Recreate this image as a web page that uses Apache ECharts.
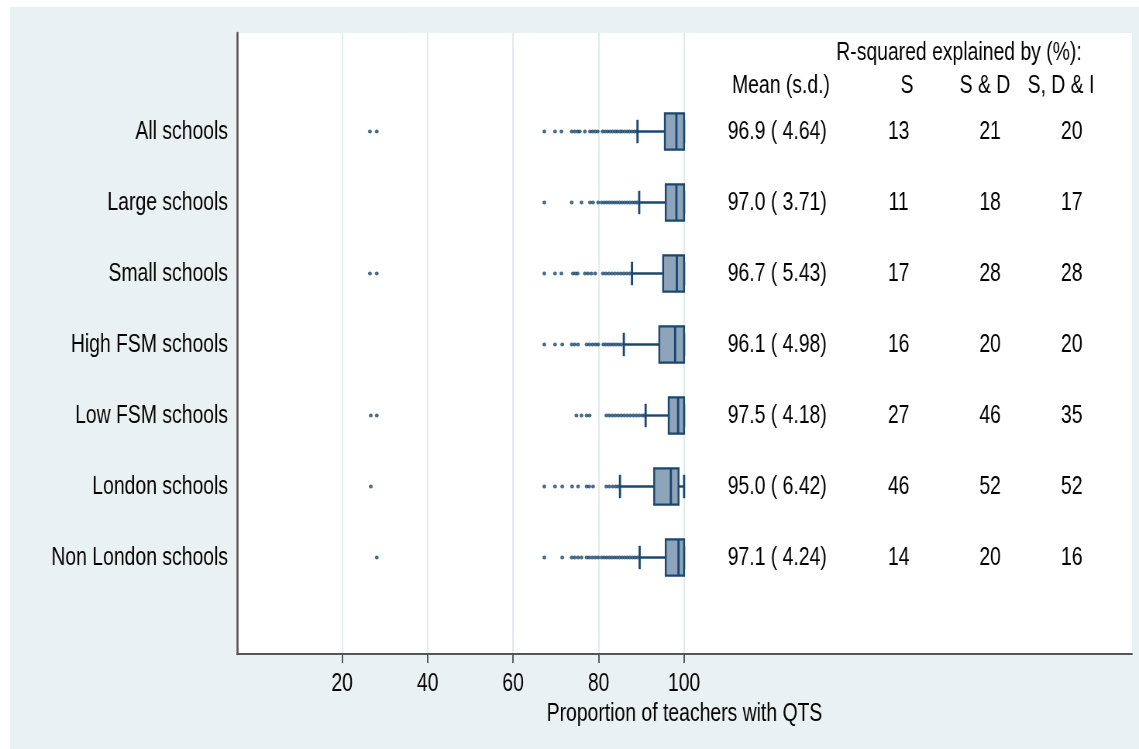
<!DOCTYPE html>
<html>
<head>
<meta charset="utf-8">
<title>Proportion of teachers with QTS</title>
<script src="https://cdn.jsdelivr.net/npm/echarts@6/dist/echarts.min.js"></script>
<style>
  html, body { margin: 0; padding: 0; background: #fff; }
  #wrap { position: relative; width: 1139px; height: 749px; background: #fff; overflow: hidden; }
  #bg { position: absolute; left: 10px; top: 7px; right: 0; bottom: 0; background: #eaf1f3; }
  /* the chart is drawn wider and squeezed horizontally to get narrow type */
  #chart { position: absolute; left: 0; top: 0; width: 1470px; height: 749px;
           transform-origin: 0 0; transform: scaleX(0.77483); }
</style>
</head>
<body>
<div id="wrap"><div id="bg"></div><div id="chart"></div></div>
<script>
// ---- data ----
const groups = ['All schools', 'Large schools', 'Small schools', 'High FSM schools',
                'Low FSM schools', 'London schools', 'Non London schools'];

const whiskerLow  = [89.1, 89.5, 87.8, 85.9, 91.0, 85.0, 89.6];
const quartile1   = [95.5, 95.7, 95.1, 94.2, 96.4, 93.0, 95.7];
const medians     = [98.2, 98.2, 98.3, 97.9, 98.6, 96.9, 98.7];
const quartile3   = [100, 100, 100, 100, 100, 98.7, 100];
const whiskerHigh = [100, 100, 100, 100, 100, 100, 100];

const outliersAll = [26.5, 28.1, 67.3, 69.8, 71.3, 73.7, 74.4, 75.1, 75.6, 76.8, 78.0, 78.6, 79.2, 79.8,
                     80.9, 81.5, 82.1, 82.7, 83.3, 83.9, 84.4, 85.0, 85.5, 86.1, 86.7, 87.2, 87.8, 88.4, 88.9];
const outliersLarge = [67.3, 73.7, 76.0, 78.0, 78.7, 79.9, 80.7, 81.3, 81.9, 82.5, 83.1, 83.7, 84.3, 84.9,
                       85.5, 86.1, 86.7, 87.3, 87.9, 88.5, 89.0];
const outliersSmall = [26.5, 28.1, 67.3, 69.8, 71.3, 74.0, 74.6, 75.1, 76.8, 77.5, 78.3, 79.2, 81.0, 81.7,
                       82.4, 83.1, 83.8, 84.5, 85.2, 85.9, 86.6, 87.3];
const outliersHighFsm = [67.3, 69.8, 71.5, 73.7, 74.4, 75.2, 77.2, 77.9, 78.6, 79.3, 79.9, 81.1, 81.7,
                         82.3, 82.9, 83.5, 84.1, 84.7, 85.3];
const outliersLowFsm = [26.7, 28.1, 74.8, 76.0, 77.2, 77.9, 81.8, 82.5, 83.2, 83.9, 84.6, 85.3, 86.0,
                        86.7, 87.4, 88.1, 88.8, 89.5, 90.2, 90.7];
const outliersLondon = [26.7, 67.3, 69.8, 71.5, 73.8, 75.2, 77.2, 77.8, 78.7, 81.8, 82.5, 83.3, 84.0, 84.6];
const outliersNonLondon = [28.1, 67.3, 71.5, 73.7, 74.4, 75.2, 76.0, 77.2, 77.8, 78.5, 79.2, 79.9, 80.7,
                           81.3, 81.9, 82.5, 83.1, 83.7, 84.3, 84.9, 85.5, 86.1, 86.7, 87.3, 87.9, 88.5, 89.1];
const outliers = [outliersAll, outliersLarge, outliersSmall, outliersHighFsm,
                  outliersLowFsm, outliersLondon, outliersNonLondon];

const meanVals = [96.9, 97.0, 96.7, 96.1, 97.5, 95.0, 97.1];
const sdVals   = [4.64, 3.71, 5.43, 4.98, 4.18, 6.42, 4.24];
const rsqS     = [13, 11, 17, 16, 27, 46, 14];
const rsqSD    = [21, 18, 28, 20, 46, 52, 20];
const rsqSDI   = [20, 17, 28, 20, 35, 52, 16];

const xTicks = [20, 40, 60, 80, 100];

// ---- styling / layout ----
const SX = 0.77483;                 // horizontal squeeze applied by CSS
const hx = v => v / SX;             // screen px -> canvas px (horizontal)
const FONT = "'Liberation Sans', Arial, sans-serif";
const FS = 25;
const NAVY = '#1a476f';
const BOX_FILL = '#8da4ba';
const AXIS_COLOR = '#555';
const X_MIN = -4.6, X_MAX = 204.8;
// x positions (axis units) of the text columns to the right of the boxes
const COL_MEAN = 121.8, COL_S = 150.2, COL_SD = 171.6, COL_SDI = 190.7;

const boxData = groups.map((g, i) =>
  [i, whiskerLow[i], quartile1[i], medians[i], quartile3[i], whiskerHigh[i]]);
const outlierData = [];
outliers.forEach((arr, i) => arr.forEach(v => outlierData.push([v, i])));
const statData = groups.map((g, i) => [i, meanVals[i], sdVals[i], rsqS[i], rsqSD[i], rsqSDI[i]]);

function renderBox(params, api) {
  const row = api.value(0);
  const lo = api.coord([api.value(1), row]);
  const b1 = api.coord([api.value(2), row]);
  const md = api.coord([api.value(3), row]);
  const b3 = api.coord([api.value(4), row]);
  const hi = api.coord([api.value(5), row]);
  const band = api.size([0, 1])[1];
  const boxH = band * 0.51;
  const capH = band * 0.33;
  const y = lo[1] - 1;
  const hLine = { stroke: NAVY, lineWidth: 2.4 };
  const vLine = { stroke: NAVY, lineWidth: hx(2.2) };
  return {
    type: 'group',
    children: [
      { type: 'line', shape: { x1: lo[0], y1: y, x2: b1[0], y2: y }, style: hLine },
      { type: 'line', shape: { x1: b3[0], y1: y, x2: hi[0], y2: y }, style: hLine },
      { type: 'line', shape: { x1: lo[0], y1: y - capH / 2, x2: lo[0], y2: y + capH / 2 }, style: vLine },
      { type: 'line', shape: { x1: hi[0], y1: y - capH / 2, x2: hi[0], y2: y + capH / 2 }, style: vLine },
      { type: 'rect', shape: { x: b1[0], y: y - boxH / 2, width: b3[0] - b1[0], height: boxH },
        style: { fill: BOX_FILL, stroke: NAVY, lineWidth: 2.4 } },
      { type: 'line', shape: { x1: md[0], y1: y - boxH / 2, x2: md[0], y2: y + boxH / 2 }, style: vLine }
    ]
  };
}

function renderStats(params, api) {
  const row = api.value(0);
  const mean = api.value(1), sd = api.value(2);
  const sdTxt = sd.toFixed(2).padStart(5, ' ');
  const cells = [
    [COL_MEAN, mean.toFixed(1) + ' (' + sdTxt + ')'],
    [COL_S, String(api.value(3))],
    [COL_SD, String(api.value(4))],
    [COL_SDI, String(api.value(5))]
  ];
  return {
    type: 'group',
    children: cells.map(([cx, txt]) => {
      const p = api.coord([cx, row]);
      return {
        type: 'text', x: p[0], y: p[1],
        style: { text: txt, fill: '#000', fontSize: FS, fontFamily: FONT,
                 align: 'center', verticalAlign: 'middle' }
      };
    })
  };
}

function headerText(txt, x, y) {
  return { type: 'text', x: hx(x), y: y,
           style: { text: txt, fill: '#000', fontSize: FS, fontFamily: FONT,
                    align: 'center', verticalAlign: 'middle' } };
}

const chart = echarts.init(document.getElementById('chart'), null, { renderer: 'canvas' });
chart.setOption({
  animation: false,
  textStyle: { fontFamily: FONT },
  grid: [
    { left: hx(237), right: hx(7), top: 33, bottom: 95, show: true, backgroundColor: '#fff', borderWidth: 0 },
    { left: hx(237), right: hx(7), top: 97, height: 497 }
  ],
  xAxis: [
    {
      gridIndex: 0, type: 'value', min: X_MIN, max: X_MAX,
      axisLine: { show: true, onZero: false, lineStyle: { color: AXIS_COLOR, width: 2 } },
      axisTick: { show: true, customValues: xTicks, length: 9, lineStyle: { color: AXIS_COLOR, width: hx(1.5) } },
      axisLabel: { show: true, customValues: xTicks, margin: 18, fontSize: FS, color: '#000', fontFamily: FONT },
      splitLine: { show: true, lineStyle: { color: '#e2eaed', width: hx(1.5) } },
      name: 'Proportion of teachers with QTS', nameLocation: 'middle', nameGap: 38,
      nameTextStyle: { fontSize: FS, color: '#000', fontFamily: FONT }
    },
    { gridIndex: 1, type: 'value', min: X_MIN, max: X_MAX, show: false }
  ],
  yAxis: [
    {
      gridIndex: 0, type: 'value', min: 0, max: 1,
      axisLine: { show: true, onZero: false, lineStyle: { color: AXIS_COLOR, width: hx(2) } },
      axisTick: { show: false }, axisLabel: { show: false }, splitLine: { show: false }
    },
    {
      gridIndex: 1, type: 'category', inverse: true, data: groups,
      axisLine: { show: false }, axisTick: { show: false }, splitLine: { show: false },
      axisLabel: { fontSize: FS, color: '#000', margin: hx(9), fontFamily: FONT }
    }
  ],
  graphic: [
    headerText('R-squared explained by (%):', 959, 53),
    headerText('Mean (s.d.)', 781, 86),
    headerText('S', 907, 86),
    headerText('S & D', 985, 86),
    headerText('S, D & I', 1061, 86)
  ],
  series: [
    {
      type: 'scatter', xAxisIndex: 1, yAxisIndex: 1, data: outlierData,
      symbol: 'circle', symbolSize: [hx(3.8), 3.8], symbolOffset: [0, -1],
      itemStyle: { color: NAVY }, silent: true
    },
    {
      type: 'custom', xAxisIndex: 1, yAxisIndex: 1, data: boxData,
      renderItem: renderBox, encode: { x: [1, 2, 3, 4, 5], y: 0 }, silent: true
    },
    {
      type: 'custom', xAxisIndex: 1, yAxisIndex: 1, data: statData,
      renderItem: renderStats, encode: { x: 1, y: 0 }, silent: true
    }
  ]
});
</script>
</body>
</html>
